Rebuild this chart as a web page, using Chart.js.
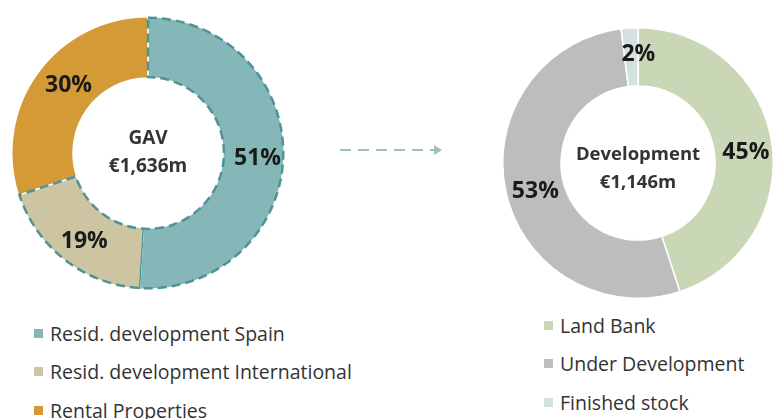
<!DOCTYPE html>
<html>
<head>
    <style>
        body {
            margin: 0;
            width: 775px;
            height: 419px;
            overflow: hidden;
            background: #fff;
            font-family: "Open Sans", sans-serif;
            position: relative;
        }
        .box {
            position: absolute;
        }
        #gavBox { left: 11px; top: 16px; width: 274px; height: 274px; }
        #devBox { left: 502px; top: 27px; width: 272px; height: 272px; }
        .legend {
            position: absolute;
            font-size: 19.5px;
            color: #333;
        }
        .legend div {
            height: 38.5px;
            display: flex;
            align-items: center;
        }
        .legend span.sw {
            display: inline-block;
            width: 9px;
            height: 9px;
            margin-right: 7px;
        }
        #gavLegend { left: 34px; top: 314px; }
        #devLegend { left: 544px; top: 306px; }
        #arrow { position: absolute; left: 336px; top: 143px; }
    </style>
    <script src="https://cdn.jsdelivr.net/npm/chart.js"></script>
</head>
<body>
    <div class="box" id="gavBox"><canvas id="gavChart"></canvas></div>
    <div class="box" id="devBox"><canvas id="devChart"></canvas></div>
    <svg id="arrow" width="110" height="14">
        <line x1="4" y1="7" x2="98" y2="7" stroke="#9fc0c0" stroke-width="2" stroke-dasharray="11,7"/>
        <polygon points="98,2 106,7 98,12" fill="#9fc0c0"/>
    </svg>
    <div class="legend" id="gavLegend"></div>
    <div class="legend" id="devLegend"></div>
    <script>
        // GAV breakdown
        var gavLabels = ['Resid. development Spain', 'Resid. development International', 'Rental Properties'];
        var gavValues = [51, 19, 30];
        var gavColors = ['#86b7b8', '#cdc5a2', '#d49a36'];
        var gavCenter = ['GAV', '€1,636m'];

        // Development breakdown
        var devLabels = ['Land Bank', 'Under Development', 'Finished stock'];
        var devValues = [45, 53, 2];
        var devColors = ['#c9d7b6', '#bdbdbd', '#d3e1e0'];
        var devCenter = ['Development', '€1,146m'];

        // percent labels + center text
        var labelPlugin = {
            id: 'labelPlugin',
            afterDatasetsDraw: function(chart, args, opts) {
                var ctx = chart.ctx;
                var meta = chart.getDatasetMeta(0);
                var values = chart.data.datasets[0].data;
                ctx.save();
                ctx.textAlign = 'center';
                ctx.textBaseline = 'middle';
                ctx.fillStyle = '#1a1a1a';
                ctx.font = 'bold 23px "Open Sans"';
                meta.data.forEach(function(arc, i) {
                    var p = arc.getCenterPoint();
                    ctx.fillText(values[i] + '%', p.x + (opts.dx[i] || 0), p.y + (opts.dy[i] || 0));
                });
                var c = meta.data[0];
                ctx.fillStyle = '#333';
                ctx.font = 'bold ' + opts.centerSize + 'px "Open Sans"';
                ctx.fillText(opts.center[0], c.x, c.y + opts.centerY[0]);
                ctx.fillText(opts.center[1], c.x, c.y + opts.centerY[1]);
                ctx.restore();
            }
        };

        // dashed outline round the residential development segments
        var dashPlugin = {
            id: 'dashPlugin',
            afterDatasetsDraw: function(chart) {
                var ctx = chart.ctx;
                var a = chart.getDatasetMeta(0).data[0];
                var b = chart.getDatasetMeta(0).data[1];
                ctx.save();
                // solid split between Spain and International
                ctx.strokeStyle = '#4d9398';
                ctx.lineWidth = 1.5;
                ctx.beginPath();
                ctx.moveTo(a.x + Math.cos(a.endAngle) * a.innerRadius, a.y + Math.sin(a.endAngle) * a.innerRadius);
                ctx.lineTo(a.x + Math.cos(a.endAngle) * a.outerRadius, a.y + Math.sin(a.endAngle) * a.outerRadius);
                ctx.stroke();
                ctx.setLineDash([9, 5]);
                ctx.lineWidth = 2.5;
                ctx.beginPath();
                ctx.arc(a.x, a.y, a.outerRadius - 1, a.startAngle, b.endAngle);
                ctx.arc(a.x, a.y, a.innerRadius + 1, b.endAngle, a.startAngle, true);
                ctx.closePath();
                ctx.stroke();
                ctx.restore();
            }
        };

        function donut(id, labels, values, colors, cutout, labelOpts, plugins) {
            return new Chart(document.getElementById(id), {
                type: 'doughnut',
                data: {
                    labels: labels,
                    datasets: [{
                        data: values,
                        backgroundColor: colors,
                        borderColor: '#ffffff',
                        borderWidth: 1.5
                    }]
                },
                options: {
                    responsive: true,
                    maintainAspectRatio: false,
                    animation: false,
                    cutout: cutout,
                    layout: { padding: 0 },
                    plugins: {
                        legend: { display: false },
                        tooltip: { enabled: false },
                        labelPlugin: labelOpts
                    }
                },
                plugins: plugins
            });
        }

        donut('gavChart', gavLabels, gavValues, gavColors, '55%', {
            center: gavCenter, centerSize: 19, centerY: [-14, 14],
            dx: [4, 1, 6], dy: [2, 5, -5]
        }, [dashPlugin, labelPlugin]);
        donut('devChart', devLabels, devValues, devColors, '57%', {
            center: devCenter, centerSize: 18.5, centerY: [-8, 20],
            dx: [3, 1, 7], dy: [6, 5, -3]
        }, [labelPlugin]);

        function legend(id, labels, colors) {
            var el = document.getElementById(id);
            labels.forEach(function(l, i) {
                var row = document.createElement('div');
                row.innerHTML = '<span class="sw" style="background:' + colors[i] + '"></span>' + l;
                el.appendChild(row);
            });
        }
        legend('gavLegend', gavLabels, gavColors);
        legend('devLegend', devLabels, devColors);
    </script>
</body>
</html>
